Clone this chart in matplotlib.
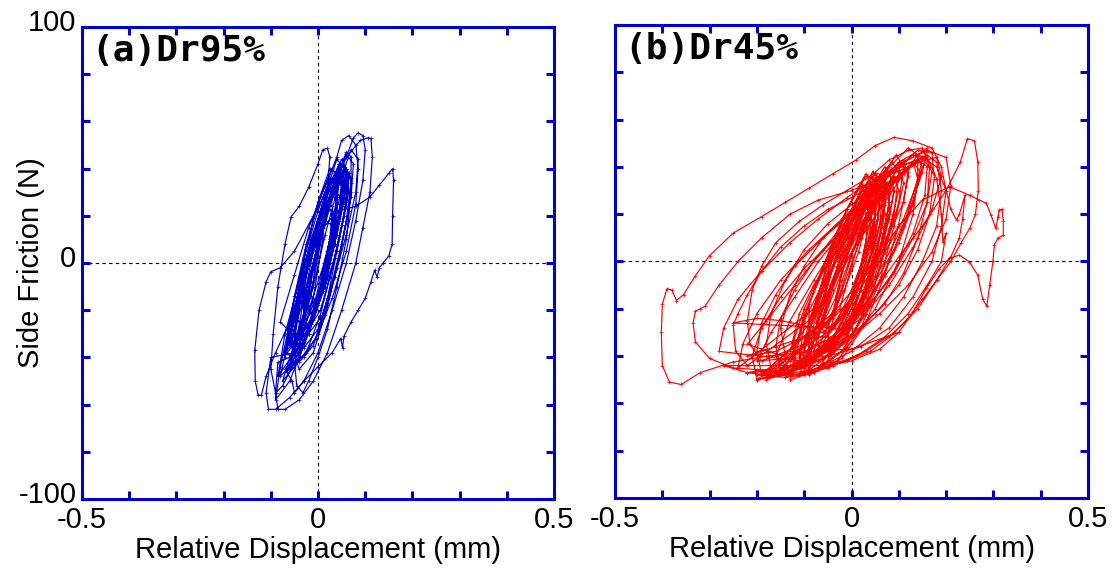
import matplotlib
matplotlib.use('Agg')
import matplotlib.pyplot as plt
import matplotlib.transforms as mtransforms

# Hysteresis traces: relative displacement (mm) vs side friction (N)
# (a) Dr95% - one continuous trace
dr95_x = [
    -0.03, 0.0, 0.03, 0.06, 0.08, 0.085, 0.08, 0.065, 0.05, 0.04, 0.02, -0.01, -0.05, -0.08, -0.1, -0.11, -0.125, -0.134, -0.133, -0.127, -0.12, -0.11, -0.09,
    -0.06, -0.03, 0.0, 0.03, 0.06, 0.075, 0.085, 0.095, 0.1, 0.095, 0.08, 0.06, 0.03, 0.0, -0.03, -0.06, -0.09, -0.105, -0.11, -0.1,
    -0.05, -0.02, 0.01, 0.035, 0.055, 0.06, 0.045, 0.02, -0.01, -0.035, -0.05,
    -0.04, -0.01, 0.02, 0.045, 0.065, 0.07, 0.055, 0.03, 0.0, -0.03, -0.045,
    -0.08, -0.05, -0.02, 0.02, 0.06, 0.09, 0.105, 0.112, 0.115, 0.11, 0.095, 0.08, 0.05, 0.02, -0.01, -0.04, -0.07, -0.085, -0.09, -0.085,
    -0.06, -0.03, 0.0, 0.025, 0.045, 0.05, 0.035, 0.01, -0.02, -0.045, -0.06,
    -0.03, 0.0, 0.025, 0.05, 0.07, 0.075, 0.06, 0.04, 0.01, -0.015, -0.03,
    -0.06, -0.03, 0.0, 0.04, 0.08, 0.11, 0.13, 0.15, 0.158, 0.16, 0.158, 0.157, 0.15, 0.138, 0.13, 0.125, 0.12, 0.112, 0.1, 0.085, 0.07, 0.055, 0.052, 0.048, 0.03, 0.0, -0.03, -0.05, -0.055,
    -0.07, -0.04, -0.01, 0.015, 0.035, 0.04, 0.025, 0.0, -0.03, -0.055, -0.07,
    -0.045, -0.015, 0.01, 0.03, 0.05, 0.055, 0.04, 0.015, -0.015, -0.035,
    -0.06, -0.04, -0.01, 0.01, 0.02, 0.025, 0.02, 0.01, 0.0, -0.02, -0.04, -0.057, -0.07, -0.085, -0.095, -0.1, -0.09, -0.075,
    -0.055, -0.025, 0.005, 0.03, 0.055, 0.065, 0.05, 0.025, -0.005, -0.035, -0.055,
    -0.035, -0.005, 0.02, 0.04, 0.06, 0.065, 0.05, 0.03, 0.0, -0.02, -0.035,
    -0.06, -0.03, 0.0, 0.03, 0.05, 0.06, 0.07, 0.07, 0.06, 0.04, 0.02, 0.0, -0.02, -0.032, -0.045, -0.05,
    -0.065, -0.035, -0.005, 0.02, 0.04, 0.045, 0.03, 0.005, -0.025, -0.05, -0.065,
    -0.04, -0.01, 0.015, 0.04, 0.06, 0.07, 0.06, 0.035, 0.005, -0.025, -0.04,
    -0.05, -0.02, 0.005, 0.025, 0.04, 0.04, 0.025, 0.0, -0.025, -0.045,
    -0.08, -0.05, -0.02, 0.01, 0.04, 0.06, 0.055, 0.03, 0.0, -0.035, -0.065, -0.08,
    -0.09, -0.06, -0.03, 0.0, 0.03, 0.05, 0.055, 0.04, 0.02, -0.01, -0.04, -0.07, -0.085,
    -0.05, -0.02, 0.01, 0.035, 0.055, 0.06, 0.045, 0.02, -0.01, -0.03,
    -0.03, -0.01, 0.01, 0.03, 0.045, 0.05, 0.035, 0.015, -0.01, -0.025, -0.03,
    -0.04, -0.015, 0.01, 0.03, 0.04, 0.035, 0.02, 0.0, -0.02, -0.035,
    -0.025, 0.0, 0.02, 0.04, 0.055, 0.055, 0.04, 0.02, -0.005, -0.02,
    -0.045, -0.025, 0.0, 0.02, 0.035, 0.03, 0.015, -0.01, -0.03, -0.045,
    -0.02, 0.005, 0.025, 0.045, 0.06, 0.06, 0.045, 0.025, 0.0, -0.015,
    -0.055, -0.03, -0.005, 0.015, 0.03, 0.03, 0.01, -0.015, -0.04, -0.055,
    -0.035, -0.01, 0.015, 0.035, 0.05, 0.05, 0.03, 0.005, -0.02, -0.035,
    -0.01, 0.015, 0.035, 0.05, 0.065, 0.06, 0.045, 0.025, 0.005, -0.01,
    -0.075, -0.05, -0.02, 0.005, 0.025, 0.03, 0.015, -0.015, -0.045, -0.07,
    -0.07, -0.045, -0.02, 0.01, 0.035, 0.05, 0.045, 0.02, -0.015, -0.045, -0.065,
    -0.02, 0.01, 0.035, 0.06, 0.08, 0.085, 0.07, 0.045, 0.015, -0.01,
    -0.065, -0.04, -0.015, 0.01, 0.025, 0.03, 0.015, -0.01, -0.04, -0.06,
]
dr95_y = [
    -40, -30, -15, 5, 25, 40, 50, 54, 52, 45, 35, 20, 5, -2, -3.7, -8, -20, -37, -50, -56, -56, -48, -38,
    -25, -8, 12, 30, 45, 53, 55.2, 54, 48, 35, 18, 0, -20, -38, -50, -57, -62, -62, -55, -40,
    -38, -30, -12, 8, 28, 40, 42, 30, 10, -10, -28,
    -42, -35, -18, 2, 22, 36, 40, 28, 8, -15, -32,
    -25, -5, 15, 32, 45, 52, 53, 52.8, 45, 30, 15, 0, -20, -38, -50, -58, -62, -62, -55, -42,
    -40, -33, -18, 0, 20, 35, 38, 25, 5, -15, -32,
    -36, -28, -12, 8, 28, 42, 46, 35, 15, -8, -25,
    -25, -5, 12, 22, 24, 28, 33, 38, 40, 35, 20, 8, 3, 0, -2, -6, -3, -8, -15, -20, -25, -31, -36, -32, -38, -44, -50, -55, -50,
    -45, -38, -22, -2, 18, 32, 36, 22, 2, -20, -38,
    -32, -25, -10, 8, 25, 36, 39, 26, 6, -14,
    -45, -35, -15, 10, 30, 45, 48.6, 48, 42, 32, 24, 19.6, 8, -10, -30, -45, -55, -52,
    -44, -38, -22, -2, 20, 38, 44, 32, 12, -12, -34,
    -40, -32, -15, 5, 24, 38, 42, 30, 10, -12, -30,
    -35, -15, 8, 28, 42, 47, 45, 30, 10, -10, -28, -40, -50, -55, -52, -42,
    -38, -30, -15, 5, 25, 36, 40, 28, 8, -14, -30,
    -45, -38, -22, -2, 18, 34, 40, 30, 10, -14, -35,
    -35, -26, -10, 10, 28, 38, 40, 26, 6, -16,
    -48, -42, -28, -8, 14, 32, 40, 32, 14, -8, -30, -44,
    -58, -50, -35, -15, 8, 28, 40, 44, 32, 12, -8, -30, -48,
    -38, -30, -12, 8, 28, 40, 42, 30, 10, -10,
    -25, -20, -8, 5, 18, 28, 30, 20, 5, -10, -22,
    -30, -24, -10, 6, 22, 30, 32, 18, 0, -18,
    -20, -14, -2, 12, 26, 34, 36, 22, 4, -12,
    -35, -30, -16, 0, 16, 24, 26, 12, -6, -24,
    -28, -20, -6, 10, 26, 38, 40, 26, 6, -14,
    -40, -34, -20, -4, 12, 22, 24, 10, -10, -28,
    -32, -24, -10, 8, 24, 34, 36, 22, 2, -18,
    -18, -10, 2, 16, 30, 40, 42, 28, 8, -8,
    -50, -44, -30, -12, 6, 16, 18, 2, -20, -40,
    -36, -32, -20, -2, 18, 32, 36, 24, 2, -18, -30,
    -30, -22, -6, 12, 30, 44, 48, 34, 12, -10,
    -46, -40, -26, -8, 10, 22, 24, 8, -14, -34,
]

# (b) Dr45% - one continuous trace
dr45_x = [
    0.10, 0.0, -0.08, -0.18, -0.25, -0.32, -0.36, -0.385, -0.40, -0.402, -0.40, -0.39, -0.38, -0.37, -0.355, -0.33, -0.30, -0.25, -0.19, -0.14, -0.09, -0.04, 0.01, 0.05, 0.09, 0.13, 0.17, 0.19, 0.2, 0.19, 0.17, 0.13, 0.08, 0.02, -0.05, -0.1,
    -0.09, -0.04, 0.01, 0.04, 0.065, 0.07, 0.05, 0.02, -0.02, -0.06, -0.09,
    -0.18, -0.25, -0.30, -0.33, -0.335, -0.33, -0.32, -0.31, -0.28, -0.24, -0.19, -0.13, -0.07, 0.0, 0.06, 0.12, 0.16, 0.18, 0.19, 0.18, 0.15, 0.11, 0.06, 0.0, -0.07, -0.14, -0.2,
    -0.1, -0.05, 0.0, 0.04, 0.07, 0.09, 0.08, 0.05, 0.0, -0.05, -0.09,
    -0.22, -0.245, -0.25, -0.24, -0.22, -0.19, -0.15, -0.1, -0.05, 0.0, 0.05, 0.1, 0.14, 0.17, 0.175, 0.165, 0.14, 0.1, 0.05, 0.0, -0.06, -0.12, -0.17, -0.2,
    -0.11, -0.06, -0.01, 0.03, 0.06, 0.08, 0.075, 0.04, -0.01, -0.06, -0.1,
    -0.19, -0.215, -0.22, -0.21, -0.19, -0.16, -0.11, -0.06, -0.01, 0.04, 0.08, 0.12, 0.15, 0.165, 0.16, 0.14, 0.11, 0.07, 0.02, -0.04, -0.1, -0.15,
    -0.08, -0.03, 0.02, 0.05, 0.07, 0.06, 0.03, -0.01, -0.05, -0.08,
    -0.1, -0.05, 0.0, 0.05, 0.1, 0.15, 0.2, 0.23, 0.245, 0.26, 0.267, 0.268, 0.262, 0.25, 0.232, 0.21, 0.18, 0.15, 0.12, 0.08, 0.04, -0.01, -0.06,
    -0.07, -0.02, 0.03, 0.06, 0.09, 0.1, 0.085, 0.06, 0.02, -0.03, -0.07,
    -0.05, 0.0, 0.05, 0.1, 0.15, 0.207, 0.25, 0.27, 0.285, 0.295, 0.305, 0.31, 0.312, 0.318, 0.321, 0.321, 0.31, 0.302, 0.299, 0.292, 0.286, 0.277, 0.267, 0.249, 0.228, 0.207, 0.186, 0.158, 0.13, 0.1, 0.06, 0.0, -0.05,
    -0.12, -0.07, -0.02, 0.02, 0.05, 0.06, 0.04, 0.0, -0.05, -0.1, -0.12,
    -0.17, -0.18, -0.17, -0.14, -0.1, -0.05, 0.0, 0.05, 0.1, 0.15, 0.18, 0.2, 0.21, 0.222, 0.228, 0.24, 0.235, 0.228, 0.21, 0.18, 0.14, 0.09, 0.03, -0.04, -0.1, -0.14,
    -0.06, -0.01, 0.03, 0.06, 0.08, 0.07, 0.045, 0.01, -0.03, -0.06,
    -0.14, -0.15, -0.13, -0.1, -0.06, -0.01, 0.04, 0.09, 0.13, 0.16, 0.18, 0.19, 0.193, 0.2, 0.19, 0.16, 0.12, 0.07, 0.01, -0.05, -0.1,
    -0.1, -0.05, 0.0, 0.03, 0.05, 0.05, 0.03, -0.01, -0.05, -0.09,
    -0.09, -0.03, 0.02, 0.06, 0.09, 0.11, 0.1, 0.07, 0.03, -0.03, -0.08,
    -0.16, -0.1, -0.04, 0.02, 0.07, 0.11, 0.14, 0.14, 0.12, 0.08, 0.03, -0.03, -0.08, -0.13, -0.16,
    -0.13, -0.08, -0.03, 0.01, 0.04, 0.055, 0.04, 0.0, -0.05, -0.1, -0.13,
    -0.07, -0.02, 0.02, 0.05, 0.075, 0.085, 0.07, 0.04, 0.0, -0.04, -0.07,
    -0.2, -0.14, -0.08, -0.02, 0.04, 0.09, 0.13, 0.15, 0.135, 0.1, 0.05, -0.01, -0.07, -0.12, -0.17, -0.2,
    -0.05, 0.0, 0.04, 0.07, 0.1, 0.11, 0.095, 0.06, 0.02, -0.02, -0.05,
    -0.25, -0.2, -0.15, -0.1,
    -0.11, -0.06, -0.01, 0.02, 0.04, 0.04, 0.02, -0.02, -0.06, -0.1,
    -0.13, -0.07, -0.01, 0.05, 0.1, 0.13, 0.14, 0.13, 0.1, 0.06, 0.01, -0.05, -0.1, -0.13,
    -0.08, -0.02, 0.03, 0.07, 0.1, 0.12, 0.11, 0.08, 0.04, -0.02, -0.07,
    -0.22, -0.16, -0.1, -0.04, 0.02, 0.07, 0.11, 0.12, 0.1, 0.06, 0.0, -0.06, -0.12, -0.18, -0.22,
    -0.1, -0.05, 0.0, 0.035, 0.06, 0.075, 0.06, 0.03, -0.02, -0.06, -0.1,
    -0.065, -0.02, 0.02, 0.045, 0.06, 0.055, 0.035, 0.0, -0.04, -0.065,
    -0.09, -0.04, 0.01, 0.04, 0.065, 0.07, 0.05, 0.02, -0.02, -0.06, -0.09,
    -0.06, -0.03, 0.0, 0.03, 0.05, 0.05, 0.03, 0.0, -0.03, -0.055,
    -0.08, -0.04, -0.01, 0.02, 0.04, 0.045, 0.025, -0.01, -0.05, -0.075,
    -0.04, -0.01, 0.02, 0.05, 0.07, 0.075, 0.055, 0.025, -0.01, -0.035,
    -0.1, -0.06, -0.02, 0.01, 0.03, 0.035, 0.015, -0.02, -0.06, -0.09,
    -0.19, -0.2, -0.19, -0.16, -0.12, -0.07, -0.02, 0.03, 0.08, 0.12, 0.15, 0.17, 0.16, 0.13, 0.09, 0.04, -0.02, -0.08, -0.14, -0.18,
    -0.05, -0.02, 0.02, 0.05, 0.08, 0.09, 0.07, 0.035, 0.0, -0.035,
    -0.09, -0.05, -0.01, 0.02, 0.045, 0.05, 0.03, -0.005, -0.045, -0.08,
    -0.03, 0.0, 0.03, 0.06, 0.08, 0.08, 0.06, 0.03, 0.0, -0.025,
    -0.15, -0.16, -0.15, -0.12, -0.08, -0.03, 0.02, 0.07, 0.11, 0.14, 0.16, 0.155, 0.13, 0.09, 0.04, -0.02, -0.08, -0.13,
    -0.07, -0.035, 0.0, 0.03, 0.055, 0.06, 0.04, 0.01, -0.03, -0.065,
    -0.11, -0.07, -0.03, 0.01, 0.04, 0.05, 0.035, 0.0, -0.05, -0.09, -0.11,
    -0.28, -0.27, -0.24, -0.19, -0.13, -0.07, -0.01, 0.05, 0.11, 0.16, 0.2, 0.21, 0.2, 0.17, 0.12, 0.06, 0.0, -0.07, -0.15, -0.22, -0.27,
    -0.06, -0.02, 0.02, 0.05, 0.08, 0.1, 0.09, 0.06, 0.02, -0.02, -0.05,
    -0.045, -0.015, 0.015, 0.04, 0.06, 0.065, 0.045, 0.015, -0.02, -0.04,
    -0.085, -0.05, -0.015, 0.015, 0.035, 0.04, 0.02, -0.015, -0.055, -0.08,
    -0.24, -0.23, -0.2, -0.15, -0.09, -0.03, 0.03, 0.09, 0.14, 0.18, 0.19, 0.17, 0.13, 0.08, 0.02, -0.05, -0.12, -0.18, -0.22,
    -0.12, -0.125, -0.11, -0.08, -0.04, 0.01, 0.06, 0.1, 0.13, 0.145, 0.13, 0.1, 0.06, 0.01, -0.05, -0.1,
    -0.2, -0.21, -0.19, -0.15, -0.1, -0.04, 0.02, 0.08, 0.12, 0.15, 0.14, 0.11, 0.06, 0.0, -0.07, -0.14, -0.18,
    -0.09, -0.09, -0.07, -0.03, 0.02, 0.07, 0.11, 0.14, 0.16, 0.15, 0.12, 0.07, 0.01, -0.05,
]
dr45_y = [
    -30, -37, -38, -40, -42.5, -47, -52, -51, -44, -30, -18, -11.5, -12, -16.5, -14, -6, 2.5, 12, 19, 25, 31, 37, 43, 49, 52.5, 51, 48, 40, 30, 15, 0, -15, -28, -36, -40, -44,
    -42, -36, -22, -5, 15, 32, 37, 30, 12, -10, -30,
    -46, -45, -41, -34, -26, -21, -20, -19, -10, 0, 10, 20, 26, 30, 35, 40, 45, 42, 30, 15, 0, -15, -28, -38, -45, -49, -48,
    -45, -40, -28, -10, 10, 30, 38, 35, 18, -2, -25,
    -44, -38, -27, -22, -14, -4, 6, 15, 22, 27, 33, 40, 47, 46, 35, 20, 5, -10, -22, -31, -38, -44, -48, -46,
    -48, -44, -32, -15, 5, 25, 33, 28, 10, -12, -35,
    -42, -35, -25, -12, -2, 8, 17, 24, 30, 36, 43, 47, 48, 40, 25, 10, -5, -18, -28, -36, -42, -46,
    -40, -33, -18, 0, 20, 35, 36, 22, 0, -22,
    -38, -33, -25, -12, 2, 15, 30, 42, 52, 51, 42, 30, 20, 14, 8, 0, -8, -16, -24, -32, -38, -42, -43,
    -45, -38, -22, -2, 20, 38, 42, 36, 18, -5, -28,
    -30, -15, 0, 15, 26, 31.6, 28, 26, 24.6, 19.6, 14, 19, 21.7, 22, 17, 11, 10, 7, 0, -10, -19, -15.7, -5.8, -0.1, 2.7, 1.3, -3, -11.4, -21.3, -30, -37, -42, -44,
    -44, -40, -28, -12, 8, 28, 32, 20, 0, -22, -38,
    -45, -35, -22, -8, 5, 16, 24, 32, 40, 44, 40, 30, 22, 17.5, 20, 28, 18, 10, 2, -8, -20, -30, -38, -44, -48, -49,
    -38, -30, -15, 5, 25, 36, 38, 25, 5, -18,
    -40, -28, -14, -2, 10, 20, 29, 38, 45, 44, 35, 20, 8.3, 12, 0, -10, -22, -32, -40, -45, -47,
    -36, -30, -18, 0, 20, 34, 37, 22, 2, -18,
    -48, -42, -28, -8, 15, 33, 40, 36, 18, -5, -30,
    -48, -45, -36, -22, -5, 15, 35, 45, 48, 40, 25, 8, -8, -25, -40,
    -46, -42, -30, -14, 6, 26, 33, 22, 2, -20, -38,
    -42, -35, -20, -2, 18, 35, 40, 30, 10, -12, -32,
    -50, -48, -40, -28, -12, 5, 25, 40, 46, 42, 30, 15, 0, -15, -30, -42,
    -40, -32, -16, 4, 25, 40, 45, 35, 14, -8, -28,
    -26, -24, -25, -27,
    -40, -34, -20, -2, 18, 30, 33, 18, -2, -24,
    -50, -46, -36, -20, 0, 20, 35, 42, 40, 28, 12, -5, -25, -42,
    -47, -41, -26, -6, 16, 36, 43, 38, 20, -4, -30,
    -40, -38, -32, -22, -8, 8, 25, 38, 42, 34, 20, 5, -10, -25, -35,
    -43, -38, -25, -8, 12, 30, 36, 28, 8, -15, -34,
    -36, -28, -12, 6, 24, 32, 33, 18, -2, -20,
    -42, -36, -22, -5, 15, 32, 37, 30, 12, -10, -30,
    -30, -25, -12, 4, 20, 28, 30, 16, -2, -20,
    -38, -33, -20, -4, 14, 24, 26, 12, -8, -26,
    -28, -22, -8, 8, 24, 32, 34, 20, 2, -16,
    -42, -38, -26, -10, 8, 20, 22, 8, -12, -30,
    -48, -38, -26, -14, -2, 8, 17, 25, 33, 40, 44, 38, 25, 10, -5, -18, -30, -40, -47, -50,
    -36, -30, -16, 0, 18, 30, 34, 22, 2, -20,
    -46, -40, -28, -12, 6, 20, 24, 10, -10, -32,
    -32, -26, -12, 4, 20, 30, 32, 18, -2, -20,
    -46, -36, -24, -12, 0, 11, 21, 30, 38, 43, 40, 28, 12, -4, -18, -30, -41, -47,
    -34, -28, -15, 2, 18, 28, 30, 16, -4, -22,
    -48, -45, -34, -18, 2, 20, 26, 14, -6, -26, -42,
    -38, -28, -16, -4, 8, 18, 27, 35, 42, 47, 44, 32, 18, 4, -10, -22, -32, -40, -46, -47, -44,
    -44, -38, -24, -6, 14, 30, 36, 28, 10, -12, -32,
    -40, -34, -20, -2, 16, 28, 30, 16, -4, -24,
    -30, -25, -12, 4, 20, 28, 30, 16, -4, -20,
    -45, -35, -22, -8, 5, 16, 26, 35, 42, 44, 36, 22, 6, -10, -24, -35, -43, -48, -47,
    -44, -34, -22, -10, 2, 14, 26, 36, 42, 38, 24, 8, -8, -24, -36, -44,
    -50, -40, -28, -15, -3, 9, 20, 31, 39, 44, 34, 18, 0, -16, -30, -42, -49,
    -46, -34, -20, -6, 10, 25, 37, 45, 48, 38, 20, 0, -20, -38,
]

x_ticks = [-0.5, -0.4, -0.3, -0.2, -0.1, 0.0, 0.1, 0.2, 0.3, 0.4, 0.5]
x_ticklabels = ['-0.5', '', '', '', '', '0', '', '', '', '', '0.5']
y_ticks = [-100, -80, -60, -40, -20, 0, 20, 40, 60, 80, 100]
y_ticklabels = ['-100', '', '', '', '', '0', '', '', '', '', '100']

frame_blue = '#0000CC'
plt.rcParams['font.family'] = ['Liberation Sans', 'DejaVu Sans']

fig = plt.figure(figsize=(11.19, 5.72), dpi=100)
ax_a = fig.add_axes([0.0733, 0.1276, 0.4218, 0.8252])
ax_b = fig.add_axes([0.5496, 0.1294, 0.4227, 0.8269])

panels = [
    (ax_a, dr95_x, dr95_y, '#0000CC', '(a)Dr95%'),
    (ax_b, dr45_x, dr45_y, '#FF0000', '(b)Dr45%'),
]

for ax, xs, ys, color, tag in panels:
    ax.axhline(0, color='black', linestyle=(0, (3, 3)), linewidth=0.8, zorder=1)
    ax.axvline(0, color='black', linestyle=(0, (3, 3)), linewidth=0.8, zorder=1)
    ax.plot(xs, ys, color=color, linewidth=0.85, marker='+', markersize=2.5,
            markeredgewidth=0.5, zorder=2)
    ax.set_xlim(-0.5, 0.5)
    ax.set_ylim(-100, 100)
    ax.set_xticks(x_ticks)
    ax.set_xticklabels(x_ticklabels)
    ax.set_yticks(y_ticks)
    ax.set_yticklabels(y_ticklabels)
    ax.tick_params(direction='in', length=6, width=2.2, color=frame_blue,
                   top=True, right=True, labelsize=21)
    ax.tick_params(axis='x', pad=5)
    ax.tick_params(axis='y', pad=4)
    for side in ax.spines.values():
        side.set_color(frame_blue)
        side.set_linewidth(2.2)
    ax.set_xlabel('Relative Displacement (mm)', fontsize=21)
    ax.xaxis.set_label_coords(0.5, -0.078)
    ax.text(0.02, 0.985, tag, transform=ax.transAxes, ha='left', va='top',
            fontsize=26, fontweight='bold', family='DejaVu Sans Mono')

# y tick labels sit a little above their ticks
lift = mtransforms.ScaledTranslation(0, 5 / 72, fig.dpi_scale_trans)
for lab in ax_a.get_yticklabels():
    lab.set_transform(lab.get_transform() + lift)

ax_a.set_ylabel('Side Friction (N)', fontsize=21)
ax_a.yaxis.set_label_coords(-0.078, 0.5)
ax_b.tick_params(labelleft=False)

fig.savefig('out.png', dpi=100)
